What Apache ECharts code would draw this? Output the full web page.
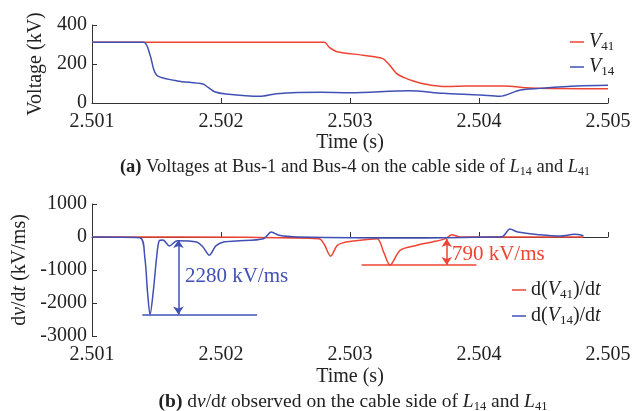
<!DOCTYPE html>
<html>
<head>
<meta charset="utf-8">
<script src="https://cdn.jsdelivr.net/npm/echarts@6/dist/echarts.min.js"></script>
<style>
  html, body { margin: 0; padding: 0; background: #fff; }
  #chart { width: 636px; height: 411px; }
</style>
</head>
<body>
<div id="chart"></div>
<script>
// (a) voltages, kV
const tV41 = [2.501, 2.5028, 2.50284, 2.5029, 2.5031, 2.50325, 2.5033, 2.50336, 2.50342, 2.50349, 2.5036, 2.50374, 2.5039, 2.50419, 2.5044, 2.505]
const V41 = [311, 311, 285, 263, 245, 229, 200, 152, 130, 113, 95, 84, 87, 87, 77, 73]
const tV14 = [2.501, 2.5014, 2.50145, 2.50148, 2.50151, 2.50166, 2.50186, 2.5019, 2.50195, 2.50204, 2.5023, 2.50243, 2.50277, 2.503, 2.50346, 2.50372, 2.50401, 2.50416, 2.50432, 2.50447, 2.50476, 2.505]
const V14 = [311, 311, 246, 169, 138, 113, 97, 80, 58, 46, 34, 48, 55, 53, 63, 50, 41, 34, 67, 75, 87, 91]

// (b) dv/dt, kV/ms
const tD41 = [2.501, 2.5022, 2.50276, 2.5028, 2.50285, 2.5029, 2.50295, 2.50303, 2.50321, 2.50326, 2.50331, 2.50339, 2.50352, 2.50364, 2.50374, 2.50379, 2.50385, 2.50481]
const D41 = [0, -10, -50, -220, -580, -260, -170, -120, -50, -450, -850, -400, -250, -150, -50, 70, 0, 0]
const tD14 = [2.501, 2.50137, 2.50141, 2.50143, 2.50145, 2.501475, 2.5015, 2.50152, 2.50155, 2.5016, 2.50166, 2.50181, 2.50186, 2.50191, 2.50196, 2.50202, 2.50212, 2.50233, 2.50239, 2.50245, 2.5026, 2.5035, 2.5041, 2.50418, 2.50424, 2.5043, 2.50447, 2.50463, 2.50474, 2.50481]
const D14 = [0, -20, -650, -1650, -2350, -1650, -650, -120, -90, -270, -110, -150, -300, -550, -270, -150, -120, -50, 150, 50, 0, -30, 0, 10, 240, 150, 70, 30, 80, 40]

const xTicks = ['2.501', '2.502', '2.503', '2.504', '2.505']

const RED = '#ee4433'
const BLUE = '#4150b4'
const FONT = '"Liberation Serif", "Times New Roman", serif'

const zip = (t, v) => t.map((x, i) => [x, v[i]])

// rich text pieces: italic, subscript, caption parts
function richSet(size, sub) {
  return {
    i: { fontStyle: 'italic', fontSize: size, fontFamily: FONT, fontWeight: 'normal' },
    s: { fontSize: sub, fontFamily: FONT, padding: [9, 0, 0, 0], fontWeight: 'normal' },
    b: { fontWeight: 'bold', fontSize: size, fontFamily: FONT },
    n: { fontSize: size, fontFamily: FONT, fontWeight: 'normal' }
  }
}

function xAxis(idx) {
  return {
    gridIndex: idx, type: 'value', min: 2.501, max: 2.505, interval: 0.001,
    name: 'Time (s)', nameLocation: 'middle', nameGap: idx ? 31 : 28,
    nameTextStyle: { fontFamily: FONT, fontSize: 20, color: '#222' },
    axisLine: { lineStyle: { color: '#333', width: 1 } },
    axisTick: { inside: true, length: 5, lineStyle: { color: '#333' } },
    axisLabel: { fontFamily: FONT, fontSize: 20, color: '#222', margin: 9,
      formatter: v => xTicks[Math.round((v - 2.501) * 1000)] },
    splitLine: { show: false }
  }
}

function yAxis(idx, min, max, step, name, gap) {
  return {
    gridIndex: idx, type: 'value', min: min, max: max, interval: step,
    name: name, nameLocation: 'middle', nameGap: gap,
    nameTextStyle: { fontFamily: FONT, fontSize: 20, color: '#222', rich: richSet(20, 13) },
    axisLine: { show: true, lineStyle: { color: '#333' } },
    axisTick: { show: true, inside: true, length: 5, lineStyle: { color: '#333' } },
    axisLabel: { fontFamily: FONT, fontSize: 20, color: '#222', margin: 5, formatter: v => String(v) },
    splitLine: { show: false }
  }
}

const chart = echarts.init(document.getElementById('chart'))
chart.setOption({
  animation: false,
  title: [
    { left: 350, textAlign: 'center', top: 152,
      text: '{b|(a)}{n| Voltages at Bus-1 and Bus-4 on the cable side of }{i|L}{s|14}{n| and }{i|L}{s|41}',
      textStyle: { fontWeight: 'normal', color: '#222', rich: richSet(18.5, 12) } },
    { left: 348, textAlign: 'center', top: 386,
      text: '{b|(b)}{n| d}{i|v}{n|/d}{i|t}{n| observed on the cable side of }{i|L}{s|14}{n| and }{i|L}{s|41}',
      textStyle: { fontWeight: 'normal', color: '#222', rich: richSet(19.5, 12.5) } }
  ],
  grid: [
    { left: 92, top: 25, width: 516, height: 78 },
    { left: 92, top: 204, width: 516, height: 132 }
  ],
  legend: [
    { orient: 'vertical', left: 565, top: 27, itemGap: 4, icon: 'rect', itemWidth: 14, itemHeight: 1.5,
      data: ['V41', 'V14'],
      formatter: n => '{i|V}{s|' + n.slice(1) + '}',
      textStyle: { color: '#222', fontFamily: FONT, fontSize: 20, rich: richSet(20, 13) } },
    { orient: 'vertical', left: 507, top: 275, itemGap: 5, icon: 'rect', itemWidth: 14, itemHeight: 1.5,
      data: ['dV41', 'dV14'],
      formatter: n => '{n|d(}{i|V}{s|' + n.slice(2) + '}{n|)/d}{i|t}',
      textStyle: { color: '#222', fontFamily: FONT, fontSize: 20, rich: richSet(20, 13) } }
  ],
  xAxis: [xAxis(0), xAxis(1)],
  yAxis: [
    yAxis(0, 0, 400, 200, 'Voltage (kV)', 45),
    yAxis(1, -3000, 1000, 1000, '{n|d}{i|v}{n|/d}{i|t}{n| (kV/ms)}', 62)
  ],
  series: [
    { name: 'V41', type: 'line', xAxisIndex: 0, yAxisIndex: 0, data: zip(tV41, V41), showSymbol: false, smooth: 0.3,
      color: RED, lineStyle: { width: 1.5 } },
    { name: 'V14', type: 'line', xAxisIndex: 0, yAxisIndex: 0, data: zip(tV14, V14), showSymbol: false, smooth: 0.3,
      color: BLUE, lineStyle: { width: 1.5 } },
    { name: 'dV41', type: 'line', xAxisIndex: 1, yAxisIndex: 1, data: zip(tD41, D41), showSymbol: false, smooth: 0.3,
      color: RED, lineStyle: { width: 1.5 },
      markLine: { silent: true, symbolSize: 8, label: { show: false }, lineStyle: { color: RED, type: 'solid', width: 1.5 },
        data: [
          [{ coord: [2.50309, -850], symbol: 'none' }, { coord: [2.50398, -850], symbol: 'none' }],
          [{ coord: [2.50375, -60], symbol: 'arrow' }, { coord: [2.50375, -850], symbol: 'arrow' }]
        ] },
      markPoint: { silent: true, symbol: 'circle', symbolSize: 0,
        label: { show: true, position: 'right', distance: 0, color: RED, fontFamily: FONT, fontSize: 21 },
        data: [{ coord: [2.50379, -520], value: '790 kV/ms' }] } },
    { name: 'dV14', type: 'line', xAxisIndex: 1, yAxisIndex: 1, data: zip(tD14, D14), showSymbol: false, smooth: 0.3,
      color: BLUE, lineStyle: { width: 1.5 },
      markLine: { silent: true, symbolSize: 8, label: { show: false }, lineStyle: { color: BLUE, type: 'solid', width: 1.5 },
        data: [
          [{ coord: [2.50139, -2350], symbol: 'none' }, { coord: [2.50228, -2350], symbol: 'none' }],
          [{ coord: [2.50167, -90], symbol: 'arrow' }, { coord: [2.50167, -2350], symbol: 'arrow' }]
        ] },
      markPoint: { silent: true, symbol: 'circle', symbolSize: 0,
        label: { show: true, position: 'right', distance: 0, color: BLUE, fontFamily: FONT, fontSize: 21 },
        data: [{ coord: [2.50172, -1200], value: '2280 kV/ms' }] } }
  ]
})
</script>
</body>
</html>
